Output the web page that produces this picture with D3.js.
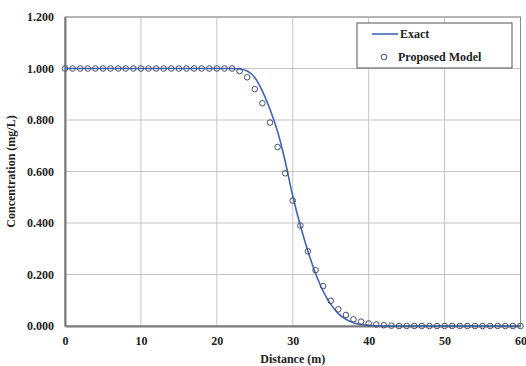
<!DOCTYPE html>
<html><head><meta charset="utf-8">
<script src="https://cdn.jsdelivr.net/npm/d3@7/dist/d3.min.js"></script>
<style>body{margin:0;background:#fff}svg{display:block}text{font-family:"Liberation Serif","Times New Roman",serif;font-weight:bold;fill:#222}</style>
</head><body><svg id="c" width="526" height="366"></svg>
<script>
const distance = d3.range(0, 61, 1);
const exact = [1,1,1,1,1,1,1,1,1,1,1,1,1,1,1,1,1,1,1,1,1,1,1,0.998,0.99,0.965,0.912,0.842,0.755,0.64,0.505,0.39,0.29,0.205,0.135,0.085,0.048,0.026,0.013,0.006,0.003,0.001,0,0,0,0,0,0,0,0,0,0,0,0,0,0,0,0,0,0,0];
const proposed = [1,1,1,1,1,1,1,1,1,1,1,1,1,1,1,1,1,1,1,1,1,1,1,0.99,0.966,0.92,0.865,0.79,0.695,0.593,0.487,0.39,0.29,0.217,0.155,0.098,0.065,0.043,0.026,0.017,0.01,0.006,0.003,0.001,0,0,0,0,0,0,0,0,0,0,0,0,0,0,0,0,0];
const xTicks = [0,10,20,30,40,50,60];
const yTicks = [0,0.2,0.4,0.6,0.8,1.0,1.2];
const xTitle = "Distance (m)";
const yTitle = "Concentration (mg/L)";
const legendLabels = ["Exact","Proposed Model"];

const svg = d3.select("#c");
const L=65,R=520.5,T=17,B=326;
const x = d3.scaleLinear().domain([0,60]).range([L,R]);
const y = d3.scaleLinear().domain([0,1.2]).range([B,T]);
const FS = 12;

svg.append("g").selectAll("line").data(yTicks).join("line")
  .attr("x1",L).attr("x2",R).attr("y1",d=>y(d)).attr("y2",d=>y(d))
  .attr("stroke","#c4c4c4").attr("stroke-width",1);
svg.append("g").selectAll("line").data(xTicks).join("line")
  .attr("y1",T).attr("y2",B).attr("x1",d=>x(d)).attr("x2",d=>x(d))
  .attr("stroke","#c4c4c4").attr("stroke-width",1);
svg.append("rect").attr("x",L).attr("y",T).attr("width",R-L).attr("height",B-T)
  .attr("fill","none").attr("stroke","#8a8a8a").attr("stroke-width",1);

const xa = svg.append("g").attr("transform",`translate(0,${B})`)
  .call(d3.axisBottom(x).tickValues(xTicks).tickSize(0).tickPadding(10).tickFormat(d3.format("d")));
const ya = svg.append("g").attr("transform",`translate(${L},0)`)
  .call(d3.axisLeft(y).tickValues(yTicks).tickSize(0).tickPadding(11).tickFormat(d3.format(".3f")));
[xa,ya].forEach(g=>{g.select(".domain").attr("stroke","#7a7a7a").attr("stroke-width",2);
  g.selectAll("text").attr("font-size",FS).attr("font-family","Liberation Serif").attr("font-weight","bold").attr("fill","#222");});

svg.append("text").attr("x",(L+R)/2).attr("y",363).attr("text-anchor","middle").attr("font-size",FS).text(xTitle);
svg.append("text").attr("transform",`translate(15,${(T+B)/2}) rotate(-90)`).attr("text-anchor","middle").attr("font-size",FS).text(yTitle);

svg.append("path").datum(distance.map((d,i)=>[d,exact[i]]))
  .attr("fill","none").attr("stroke","#3d66b8").attr("stroke-width",1.6)
  .attr("d",d3.line().x(d=>x(d[0])).y(d=>y(d[1])).curve(d3.curveMonotoneX));
svg.append("g").selectAll("circle").data(distance.map((d,i)=>[d,proposed[i]])).join("circle")
  .attr("cx",d=>x(d[0])).attr("cy",d=>y(d[1])).attr("r",2.8)
  .attr("fill","none").attr("stroke","#46506e").attr("stroke-width",1);

const lg = svg.append("g");
lg.append("rect").attr("x",357).attr("y",23).attr("width",155).attr("height",45)
  .attr("fill","#fff").attr("stroke","#555").attr("stroke-width",1);
lg.append("line").attr("x1",372).attr("x2",398).attr("y1",34).attr("y2",34).attr("stroke","#3d66b8").attr("stroke-width",1.6);
lg.append("text").attr("x",400).attr("y",38).attr("font-size",FS).text(legendLabels[0]);
lg.append("circle").attr("cx",384).attr("cy",57).attr("r",2.8).attr("fill","none").attr("stroke","#46506e");
lg.append("text").attr("x",398).attr("y",61).attr("font-size",FS).text(legendLabels[1]);
</script></body></html>
